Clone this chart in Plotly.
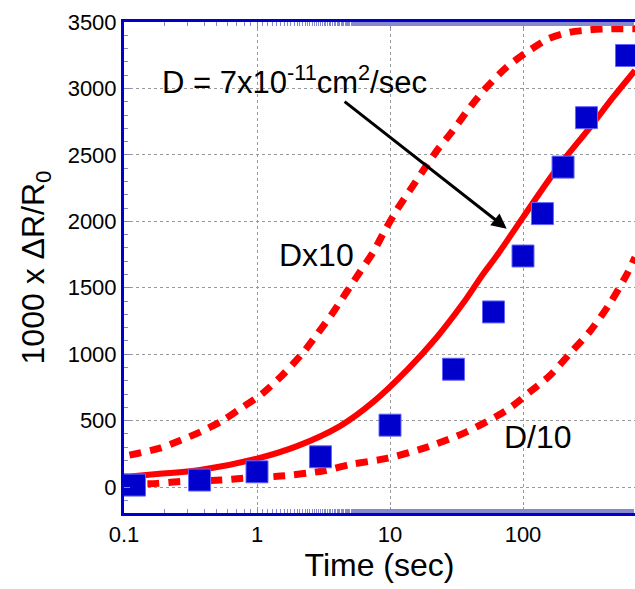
import plotly.graph_objects as go
import numpy as np

# Measured data
t_data = [0.12, 0.37, 1.0, 3.0, 10, 30, 60, 100, 140, 200, 300, 600]
r_data = [15, 53, 115, 228, 466, 887, 1318, 1739, 2058, 2408, 2780, 3248]

# Fit curve, D = 7e-11 cm2/sec
t_fit = [0.1, 0.177, 0.373, 1.0, 2.0, 4.21, 7.45, 13.4, 22.5, 35.4, 50.0, 63.8, 100, 183, 319, 475, 695]
r_fit = [75, 98, 128, 214, 308, 459, 639, 880, 1128, 1383, 1602, 1744, 2030, 2406, 2707, 2932, 3135]

# D x 10
t_hi = [0.11, 0.126, 0.183, 0.267, 0.377, 0.548, 0.754, 1.10, 1.55, 2.23, 2.89, 3.75, 4.72, 5.94, 7.48,
        9.16, 11.2, 14.1, 17.8, 23.1, 29.1, 40.0, 53.4, 75.4, 107, 155, 225, 319, 451, 695]
r_hi = [240, 253, 291, 353, 416, 499, 592, 705, 842, 1015, 1162, 1318, 1468, 1619, 1769,
        1932, 2083, 2233, 2384, 2547, 2672, 2859, 3010, 3160, 3273, 3374, 3423, 3441, 3449, 3450]

# D / 10
t_lo = [0.15, 0.178, 0.252, 0.533, 0.754, 1.51, 3.19, 5.0, 9.44, 17.8, 37.7, 75.4, 113, 160, 225, 319, 451, 603, 695]
r_lo = [25, 28, 40, 53, 65, 83, 123, 170, 216, 291, 416, 579, 717, 842, 1005, 1173, 1384, 1601, 1729]

RED = "#FF0000"
BLUE = "#0000CC"
FONT = "Liberation Sans, Arial, sans-serif"

fig = go.Figure()
dash_line = dict(color=RED, width=7, dash="12px,9px", shape="spline", smoothing=0.8)
fig.add_trace(go.Scatter(x=t_hi, y=r_hi, mode="lines", line=dash_line, showlegend=False))
fig.add_trace(go.Scatter(x=t_lo, y=r_lo, mode="lines", line=dash_line, showlegend=False))
fig.add_trace(go.Scatter(x=t_fit, y=r_fit, mode="lines",
                         line=dict(color=RED, width=6, shape="spline", smoothing=1.0), showlegend=False))
fig.add_trace(go.Scatter(x=t_data, y=r_data, mode="markers",
                         marker=dict(symbol="square", size=22, color=BLUE, line=dict(color="#6666FF", width=1)),
                         showlegend=False))

fig.add_annotation(x=np.log10(0.187), y=3060, xref="x", yref="y",
                   text="D = 7x10<sup>-11</sup>cm<sup>2</sup>/sec",
                   showarrow=False, xanchor="left", yanchor="middle",
                   font=dict(size=31, color="black", family=FONT))
fig.add_annotation(x=np.log10(75.4), y=1945, ax=np.log10(4.44), ay=2910, xref="x", yref="y", axref="x", ayref="y",
                   text="", showarrow=True, arrowhead=2, arrowsize=1, arrowwidth=3, arrowcolor="black")
fig.add_annotation(x=np.log10(2.78), y=1744, xref="x", yref="y", text="Dx10", showarrow=False,
                   font=dict(size=32, color="black", family=FONT))
fig.add_annotation(x=np.log10(130), y=376, xref="x", yref="y", text="D/10", showarrow=False,
                   font=dict(size=32, color="black", family=FONT))

fig.update_xaxes(type="log", range=[-1, 2.842], tickvals=[0.1, 1, 10, 100], ticktext=["0.1", "1", "10", "100"],
                 showline=True, linecolor=BLUE, linewidth=3, mirror="ticks",
                 ticks="inside", ticklen=6, tickcolor="#8888CC",
                 minor=dict(ticks="inside", ticklen=4, tickcolor="#8888CC", showgrid=False),
                 showgrid=True, gridcolor="#999999", griddash="dot", gridwidth=1,
                 tickfont=dict(size=22, color="black", family=FONT),
                 title=dict(text="Time (sec)", font=dict(size=32, color="black", family=FONT), standoff=6),
                 zeroline=False)
fig.update_yaxes(range=[-195, 3500], dtick=500, tick0=0,
                 showline=True, linecolor=BLUE, linewidth=3, mirror=False,
                 ticks="inside", ticklen=6, tickcolor="#8888CC",
                 minor=dict(ticks="inside", ticklen=4, tickcolor="#8888CC", dtick=100, showgrid=False),
                 showgrid=True, gridcolor="#999999", griddash="dot", gridwidth=1,
                 tickfont=dict(size=22, color="black", family=FONT),
                 title=dict(text="1000 x ΔR/R<sub>0</sub>", font=dict(size=32, color="black", family=FONT), standoff=14),
                 zeroline=False)

fig.update_layout(width=635, height=589, margin=dict(l=124, r=0, t=22, b=76),
                  plot_bgcolor="white", paper_bgcolor="white")
fig.write_html("out.html")
